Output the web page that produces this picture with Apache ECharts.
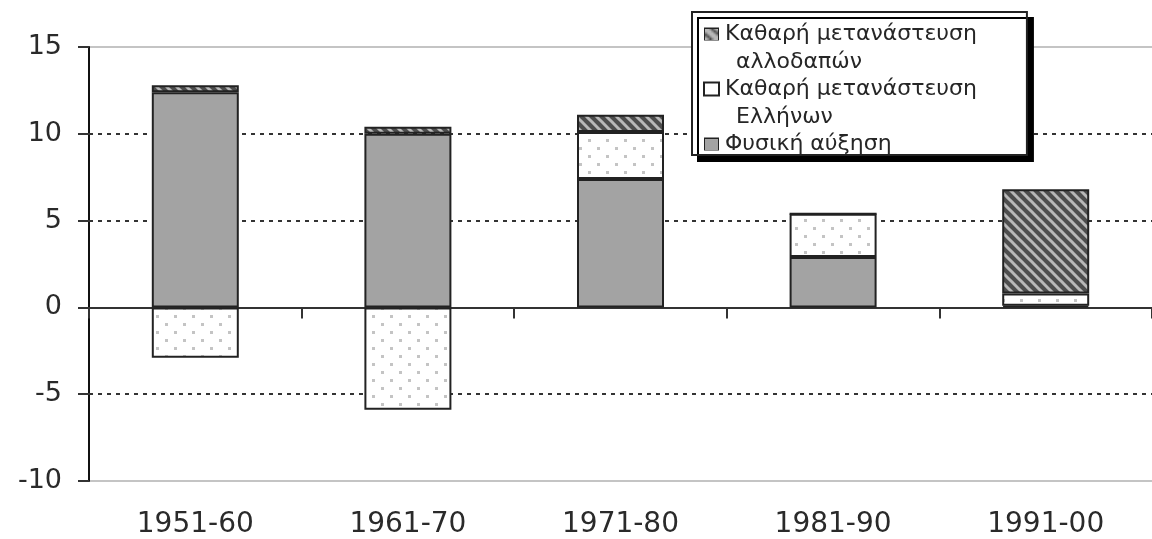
<!DOCTYPE html>
<html>
<head>
<meta charset="utf-8">
<script src="https://cdn.jsdelivr.net/npm/echarts@6/dist/echarts.min.js"></script>
<style>
  html, body { margin: 0; padding: 0; background: #fff; }
  #chart { width: 1152px; height: 539px; }
</style>
</head>
<body>
<div id="chart"></div>
<script>
// data (population change, per 1000)
const periods = ['1951-60', '1961-70', '1971-80', '1981-90', '1991-00'];
const natural = [12.4, 10.0, 7.4, 2.9, 0.1];     // Φυσική αύξηση
const greeks = [-2.9, -5.9, 2.7, 2.5, 0.7];      // Καθαρή μετανάστευση Ελλήνων
const foreigners = [0.4, 0.4, 1.0, 0, 6.0];      // Καθαρή μετανάστευση αλλοδαπών
const gridValues = [10, 5, -5];

const nameNatural = 'Φυσική αύξηση';
const nameGreeks = 'Καθαρή μετανάστευση Ελλήνων';
const nameForeign = 'Καθαρή μετανάστευση αλλοδαπών';

const font = '"DejaVu Sans", "Liberation Sans", Arial, sans-serif';

// fill patterns
function hatchCanvas(size) {
  const c = document.createElement('canvas');
  c.width = size; c.height = size;
  const g = c.getContext('2d');
  g.fillStyle = '#4d4d4d';
  g.fillRect(0, 0, size, size);
  g.strokeStyle = '#b8b8b8';
  g.lineWidth = 3;
  for (let k = -1; k <= 1; k++) {
    g.beginPath();
    g.moveTo(-2, -2 + k * size);
    g.lineTo(size + 2, size + 2 + k * size);
    g.stroke();
  }
  return c;
}
function dotCanvas(w, h) {
  const c = document.createElement('canvas');
  c.width = w; c.height = h;
  const g = c.getContext('2d');
  g.fillStyle = '#fff';
  g.fillRect(0, 0, w, h);
  g.fillStyle = '#c4c4c4';
  g.fillRect(3, 3, 3, 3);
  g.fillRect(12, 11, 3, 3);
  return c;
}
function greyCanvas() {
  const c = document.createElement('canvas');
  c.width = 11; c.height = 11;
  const g = c.getContext('2d');
  g.fillStyle = '#a3a3a3';
  g.fillRect(0, 0, 11, 11);
  return c;
}

const hatchFill = { image: hatchCanvas(10), repeat: 'repeat' };
const dotFill = { image: dotCanvas(18, 16), repeat: 'repeat' };

const barBorder = { borderColor: '#222', borderWidth: 2 };
const icon = { width: 13, height: 11, borderColor: '#222', borderWidth: 2 };

const chart = echarts.init(document.getElementById('chart'));

chart.setOption({
  animation: false,
  grid: { left: 89, right: -9, top: 47, bottom: 58 },
  legend: {
    data: [nameForeign, nameGreeks, nameNatural],
    orient: 'vertical',
    left: 692,
    top: 12,
    itemWidth: 1,
    itemHeight: 1,
    itemGap: 5,
    itemStyle: { opacity: 0 },
    padding: [11, 50, 0, 6],
    backgroundColor: '#fff',
    borderColor: '#222',
    borderWidth: 2,
    shadowColor: '#000',
    shadowBlur: 0,
    shadowOffsetX: 6,
    shadowOffsetY: 6,
    selectedMode: false,
    formatter: function (name) {
      if (name === nameForeign) return '{hatch|}{t|Καθαρή μετανάστευση}\n{ind|}{t|αλλοδαπών}';
      if (name === nameGreeks) return '{dots|}{t|Καθαρή μετανάστευση}\n{ind|}{t|Ελλήνων}';
      return '{grey|}{t|Φυσική αύξηση}';
    },
    textStyle: {
      rich: {
        t: { fontFamily: font, fontSize: 22, color: '#262626', lineHeight: 28, padding: [0, 0, 0, 7] },
        ind: { width: 24 },
        hatch: Object.assign({ backgroundColor: { image: hatchCanvas(6) } }, icon),
        dots: Object.assign({ backgroundColor: '#fff' }, icon),
        grey: Object.assign({ backgroundColor: { image: greyCanvas() } }, icon)
      }
    }
  },
  xAxis: [
    {
      type: 'category',
      data: periods,
      position: 'bottom',
      axisLine: { show: false, onZero: false },
      axisTick: { show: false },
      axisLabel: { fontFamily: font, fontSize: 28, color: '#2a2a2a', margin: 30 }
    },
    {
      type: 'category',
      data: periods,
      position: 'top',
      axisLine: { show: true, onZero: true, onZeroAxisIndex: 0, lineStyle: { color: '#333', width: 2 } },
      axisTick: { show: true, inside: true, length: 11, lineStyle: { color: '#333', width: 2 } },
      axisLabel: { show: false }
    }
  ],
  yAxis: {
    type: 'value',
    min: -10,
    max: 15,
    interval: 5,
    axisLine: { show: true, lineStyle: { color: '#111', width: 2 } },
    axisTick: { show: true, length: 11, lineStyle: { color: '#333', width: 2 } },
    axisLabel: { fontFamily: font, fontSize: 27, color: '#2a2a2a', margin: 27 },
    splitLine: {
      show: true,
      lineStyle: {
        color: ['#c4c4c4', 'transparent', 'transparent', 'transparent', 'transparent', '#c4c4c4'],
        width: 2
      }
    }
  },
  series: [
    {
      name: nameNatural,
      type: 'bar',
      stack: 'total',
      data: natural,
      barWidth: 87,
      itemStyle: Object.assign({ color: '#a3a3a3' }, barBorder),
      markLine: {
        silent: true,
        z: 1,
        symbol: 'none',
        label: { show: false },
        lineStyle: { color: '#333', type: [4, 5], width: 2 },
        data: gridValues.map(v => ({ yAxis: v }))
      }
    },
    {
      name: nameGreeks,
      type: 'bar',
      stack: 'total',
      data: greeks,
      barWidth: 87,
      itemStyle: Object.assign({ color: dotFill }, barBorder)
    },
    {
      name: nameForeign,
      type: 'bar',
      stack: 'total',
      data: foreigners,
      barWidth: 87,
      itemStyle: Object.assign({ color: hatchFill }, barBorder)
    }
  ]
});
</script>
</body>
</html>
